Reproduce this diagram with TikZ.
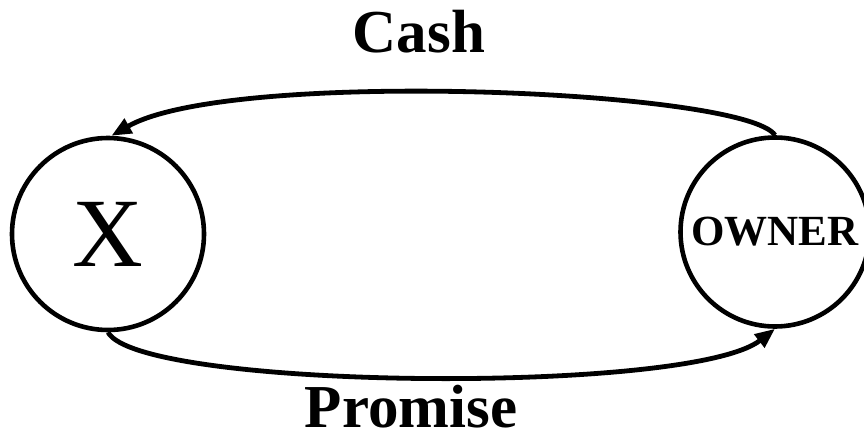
\documentclass[tikz,border=0pt]{standalone}
\usepackage{fontspec}
\setmainfont{Liberation Serif}
\usetikzlibrary{arrows.meta}
\begin{document}
\begin{tikzpicture}[x=1pt,y=-1pt,
  party/.style={draw,circle,line width=4.6pt,inner sep=0pt},
  flow/.style={line width=4.8pt,-{Triangle[length=20pt,width=16pt]}},
  lbl/.style={font=\fontsize{61}{61}\selectfont\bfseries,anchor=base}]
\useasboundingbox (0,0) rectangle (864,439);
\node[party,minimum size=192pt,font=\fontsize{98}{98}\selectfont] (x) at (108,234) {\raisebox{-5pt}{X}};
\node[party,minimum size=189pt,font=\fontsize{43}{43}\selectfont\bfseries] (o) at (775,232) {\raisebox{-5pt}{OWNER}};
\node[lbl] (cash) at (419,52) {Cash};
\node[lbl] (promise) at (411,427) {Promise};
\draw[flow] (o.north) .. controls (745,90) and (230,68) .. (x.88);
\draw[flow] (x.south) .. controls (140,390) and (690,395) .. (o.south);
\end{tikzpicture}
\end{document}
